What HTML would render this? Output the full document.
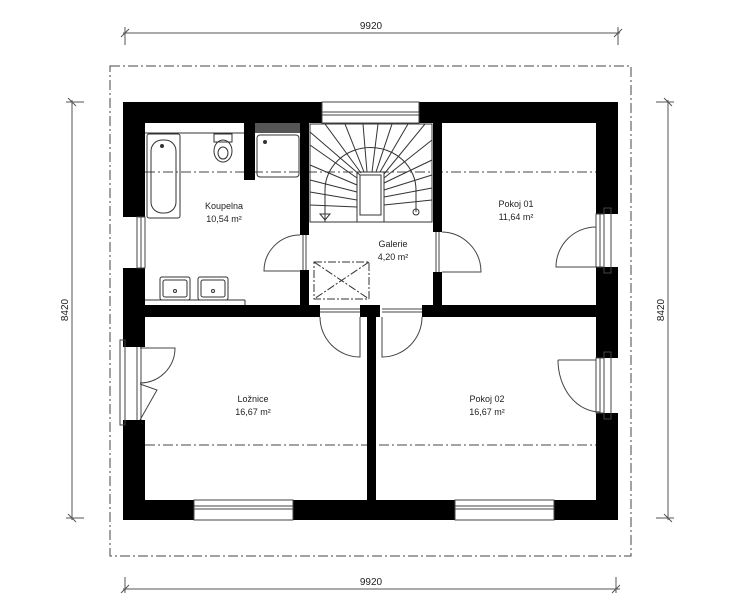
<!DOCTYPE html>
<html><head><meta charset="utf-8"><style>
html,body{margin:0;padding:0;background:#fff;}
svg{display:block;}
text{font-family:"Liberation Sans",sans-serif;fill:#222;}
</style></head><body>
<svg width="750" height="600" viewBox="0 0 750 600" xmlns="http://www.w3.org/2000/svg">
<g stroke="#555" stroke-width="1" fill="none">
<line x1="123" y1="33" x2="620" y2="33"/><line x1="125" y1="27" x2="125" y2="45"/><line x1="618" y1="27" x2="618" y2="45"/>
<line x1="121" y1="37" x2="129" y2="29"/><line x1="614" y1="37" x2="622" y2="29"/>
<line x1="123" y1="589" x2="620" y2="589"/><line x1="125" y1="577" x2="125" y2="593"/><line x1="616" y1="577" x2="616" y2="593"/>
<line x1="121" y1="593" x2="129" y2="585"/><line x1="612" y1="593" x2="620" y2="585"/>
<line x1="72" y1="100" x2="72" y2="520"/><line x1="66" y1="102" x2="84" y2="102"/><line x1="66" y1="518" x2="84" y2="518"/>
<line x1="68" y1="98" x2="76" y2="106"/><line x1="68" y1="514" x2="76" y2="522"/>
<line x1="668" y1="100" x2="668" y2="520"/><line x1="656" y1="102" x2="674" y2="102"/><line x1="656" y1="518" x2="674" y2="518"/>
<line x1="664" y1="98" x2="672" y2="106"/><line x1="664" y1="514" x2="672" y2="522"/>
</g>
<text x="371" y="29" font-size="10" text-anchor="middle">9920</text>
<text x="371" y="585" font-size="10" text-anchor="middle">9920</text>
<text x="68" y="310" font-size="10" text-anchor="middle" transform="rotate(-90 68 310)">8420</text>
<text x="664" y="310" font-size="10" text-anchor="middle" transform="rotate(-90 664 310)">8420</text>
<rect x="110" y="66" width="521" height="490" fill="none" stroke="#444" stroke-width="1" stroke-dasharray="10,3,2,3"/>
<g stroke="#444" stroke-width="1" stroke-dasharray="10,3,2,3">
<line x1="145" y1="172" x2="598" y2="172"/>
<line x1="145" y1="445" x2="598" y2="445"/>
</g>
<g fill="#000">
<rect x="123" y="102" width="199" height="21"/>
<rect x="419" y="102" width="199" height="21"/>
<rect x="123" y="102" width="22" height="115"/>
<rect x="123" y="268" width="22" height="79"/>
<rect x="123" y="420" width="22" height="100"/>
<rect x="596" y="102" width="22" height="112"/>
<rect x="596" y="267" width="22" height="91"/>
<rect x="596" y="413" width="22" height="107"/>
<rect x="123" y="500" width="71" height="20"/>
<rect x="293" y="500" width="162" height="20"/>
<rect x="554" y="500" width="64" height="20"/>
<rect x="145" y="305" width="175" height="12"/>
<rect x="360" y="305" width="20" height="12"/>
<rect x="422" y="305" width="174" height="12"/>
<rect x="367" y="305" width="9" height="195"/>
<rect x="300" y="123" width="9" height="112"/>
<rect x="300" y="270" width="9" height="35"/>
<rect x="433" y="123" width="9" height="109"/>
<rect x="433" y="272" width="9" height="33"/>
<rect x="244" y="123" width="11" height="57"/>
</g>
<g stroke="#444" stroke-width="1" fill="none">
<rect x="322" y="102" width="97" height="21"/><line x1="322" y1="112" x2="419" y2="112"/><line x1="322" y1="115" x2="419" y2="115"/>
<rect x="194" y="500" width="99" height="20"/><line x1="194" y1="506" x2="293" y2="506"/><line x1="194" y1="509" x2="293" y2="509"/>
<rect x="455" y="500" width="99" height="20"/><line x1="455" y1="506" x2="554" y2="506"/><line x1="455" y1="509" x2="554" y2="509"/>
<rect x="137" y="217" width="8" height="51"/><line x1="141" y1="217" x2="141" y2="268"/>
<rect x="596" y="214" width="8" height="53"/><line x1="600" y1="214" x2="600" y2="267"/><rect x="604" y="208" width="7" height="65"/>
<rect x="596" y="358" width="8" height="55"/><line x1="600" y1="358" x2="600" y2="413"/><rect x="604" y="352" width="7" height="67"/>
<rect x="120" y="340" width="5" height="85"/><line x1="137" y1="347" x2="137" y2="420"/><line x1="141" y1="347" x2="141" y2="420"/>
<path d="M140 348 L175 348 A35 35 0 0 1 140 383"/>
<path d="M140 420 L157 390 L140 384"/>
<path d="M300 235 A36 36 0 0 0 264 271 L300 271"/>
<path d="M442 232 A40 40 0 0 1 481 272 L442 272"/>
<path d="M596 227 A40 40 0 0 0 556 267 L596 267"/>
<path d="M558 360 L596 360 M558 360 A42 52 0 0 0 600 412"/>
<path d="M320 317 A40 40 0 0 0 360 357 L360 317"/>
<path d="M422 317 A40 40 0 0 1 382 357 L382 317"/>
<line x1="320" y1="309" x2="360" y2="309"/><line x1="320" y1="312" x2="360" y2="312"/>
<line x1="382" y1="309" x2="422" y2="309"/><line x1="382" y1="312" x2="422" y2="312"/>
<line x1="303" y1="235" x2="303" y2="270"/><line x1="306" y1="235" x2="306" y2="270"/>
<line x1="436" y1="232" x2="436" y2="272"/><line x1="439" y1="232" x2="439" y2="272"/>
</g>
<g stroke="#333" stroke-width="1" fill="none">
<line x1="145" y1="133" x2="244" y2="133"/>
<rect x="147" y="134" width="33" height="84" rx="2"/>
<rect x="151" y="140" width="25" height="73" rx="11"/>
<circle cx="162" cy="146" r="1.5" fill="#333"/>
<rect x="214" y="134" width="18" height="8"/>
<ellipse cx="223" cy="151" rx="9" ry="11"/>
<ellipse cx="223" cy="153" rx="5" ry="6"/>
<rect x="257" y="135" width="42" height="42" rx="3"/>
<circle cx="265" cy="142" r="1.5" fill="#333"/>
<rect x="160" y="277" width="30" height="23" rx="2"/>
<rect x="163" y="280" width="24" height="17" rx="2"/>
<circle cx="175" cy="291" r="1.5"/>
<rect x="198" y="277" width="30" height="23" rx="2"/>
<rect x="201" y="280" width="24" height="17" rx="2"/>
<circle cx="213" cy="291" r="1.5"/>
<line x1="145" y1="300" x2="245" y2="300"/><line x1="245" y1="300" x2="245" y2="305"/>
</g>
<rect x="255" y="123" width="45" height="10" fill="#555"/>
<g stroke="#333" stroke-width="1" fill="none">
<rect x="310" y="124" width="122" height="98"/>
<rect x="357" y="172" width="27" height="50"/>
<rect x="360" y="175" width="21" height="40"/>
<path d="M325 222 L325 190 A45 42 0 0 1 416 190 L416 212"/>
<line x1="310" y1="132" x2="360" y2="175"/>
<line x1="325" y1="124" x2="361" y2="173"/>
<line x1="345" y1="124" x2="364" y2="172"/>
<line x1="363" y1="124" x2="367" y2="172"/>
<line x1="378" y1="124" x2="372" y2="172"/>
<line x1="392" y1="124" x2="376" y2="172"/>
<line x1="408" y1="124" x2="380" y2="172"/>
<line x1="425" y1="124" x2="384" y2="174"/>
<line x1="432" y1="140" x2="384" y2="178"/>
<line x1="310" y1="145" x2="357" y2="178"/>
<line x1="310" y1="165" x2="357" y2="185"/>
<line x1="310" y1="180" x2="357" y2="192"/>
<line x1="310" y1="192" x2="357" y2="200"/>
<line x1="310" y1="205" x2="357" y2="207"/>
<line x1="432" y1="160" x2="384" y2="183"/>
<line x1="432" y1="175" x2="384" y2="190"/>
<line x1="432" y1="188" x2="384" y2="197"/>
<line x1="432" y1="200" x2="384" y2="205"/>
<circle cx="416" cy="212" r="3"/>
<path d="M320 214 L330 214 L325 220 Z"/>
</g>
<g stroke="#333" stroke-width="1" fill="none" stroke-dasharray="8,2,2,2">
<rect x="314" y="262" width="55" height="37"/>
<line x1="314" y1="262" x2="369" y2="299"/><line x1="369" y1="262" x2="314" y2="299"/>
</g>
<g font-size="9" text-anchor="middle">
<text x="224" y="209">Koupelna</text><text x="224" y="222">10,54 m²</text>
<text x="393" y="247">Galerie</text><text x="393" y="260">4,20 m²</text>
<text x="516" y="207">Pokoj 01</text><text x="516" y="220">11,64 m²</text>
<text x="253" y="402">Ložnice</text><text x="253" y="415">16,67 m²</text>
<text x="487" y="402">Pokoj 02</text><text x="487" y="415">16,67 m²</text>
</g>
</svg>
</body></html>
